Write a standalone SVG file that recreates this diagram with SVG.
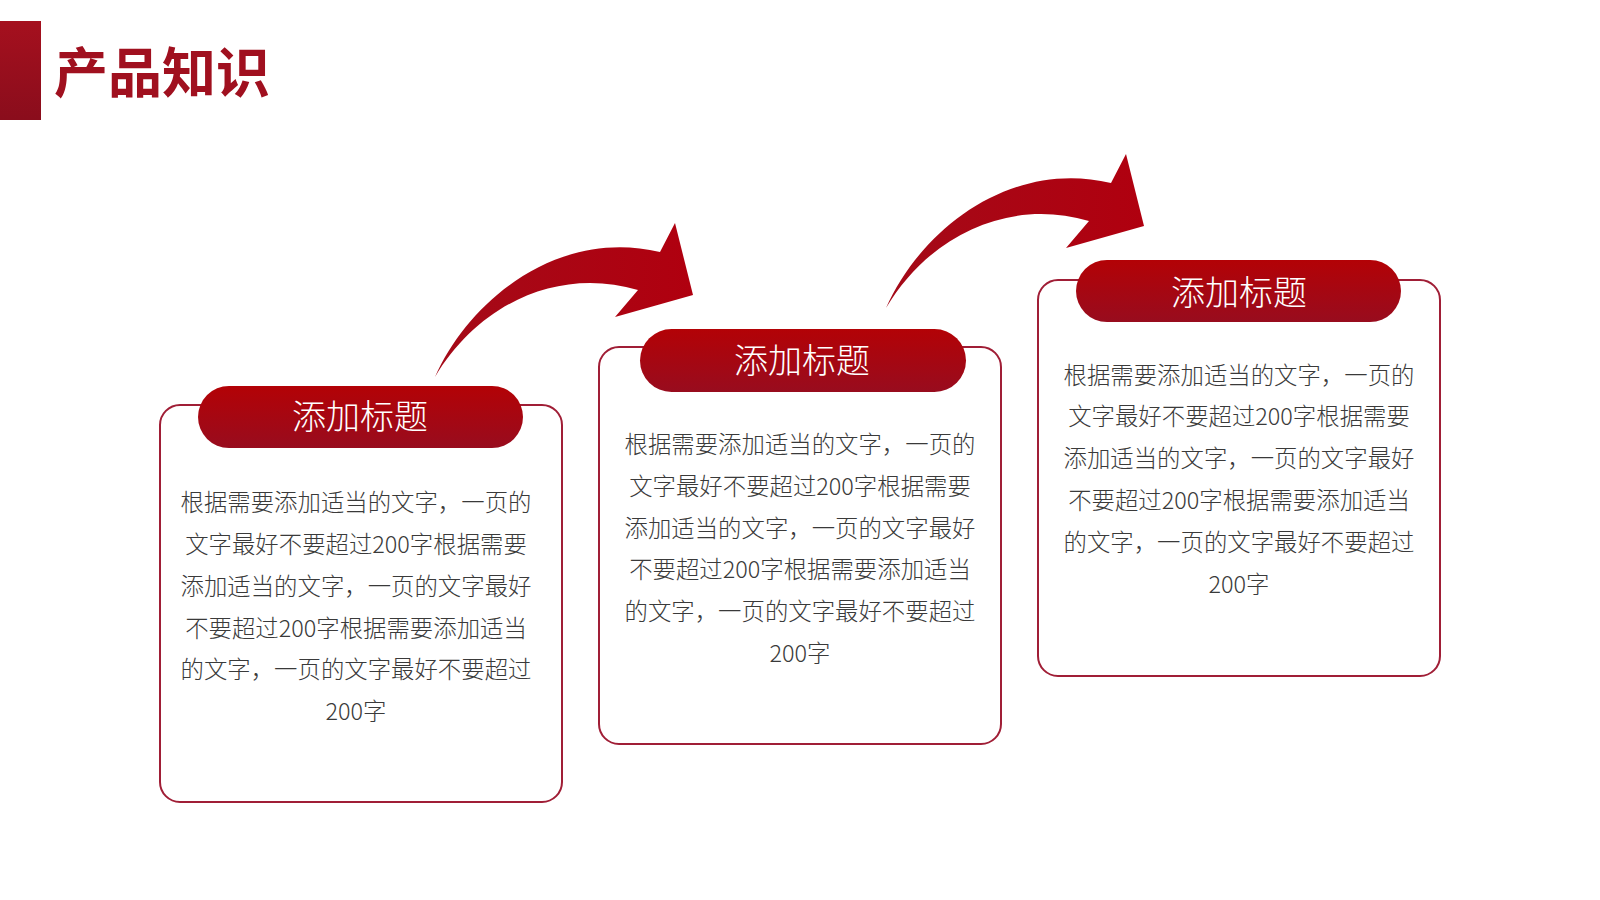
<svg xmlns="http://www.w3.org/2000/svg" width="1600" height="900" viewBox="0 0 1600 900">
<defs>
<linearGradient id="barG" x1="0" y1="0" x2="0" y2="1"><stop offset="0" stop-color="#A5101E"/><stop offset="1" stop-color="#8A0D1C"/></linearGradient>
<linearGradient id="pillG" x1="0" y1="0" x2="0" y2="1"><stop offset="0" stop-color="#B30206"/><stop offset="1" stop-color="#980C1E"/></linearGradient>
<linearGradient id="arrG" x1="0" y1="0" x2="1" y2="0"><stop offset="0" stop-color="#A40A18"/><stop offset="1" stop-color="#B0000F"/></linearGradient>
<path id="arrow" d="M435,377 C470,298 560,228 660,252 L675,223 L693,295 L615,317 L638,290 C560,267 480,302 435,377 Z"/>
</defs>
<style>
.box{fill:#FFFFFF;stroke:#A01E36;stroke-width:2}
.pill{fill:url(#pillG)}
.head{font-family:"Noto Sans CJK SC","Noto Sans",sans-serif;font-size:34px;font-weight:300;fill:#FFFFFF;text-anchor:middle}
.body{font-family:"Noto Sans CJK SC","Noto Sans",sans-serif;font-size:23.4px;font-weight:300;fill:#3A3A3A;text-anchor:middle}
.arr{fill:url(#arrG)}
</style>
<rect width="1600" height="900" fill="#FFFFFF"/>
<g id="title">
<rect x="0" y="21" width="41" height="99" fill="url(#barG)"/>
<text x="54" y="93" font-family="'Noto Sans CJK SC','Noto Sans',sans-serif" font-size="54" font-weight="bold" fill="#A0101F">产品知识</text>
</g>
<g id="connectors">
<use href="#arrow" class="arr"/>
<use href="#arrow" class="arr" transform="translate(451,-69)"/>
</g>
<g id="box1">
<rect class="box" x="160" y="405" width="402" height="397" rx="20"/>
<rect class="pill" x="198" y="386" width="325" height="62" rx="31"/>
<text class="head" x="360" y="429">添加标题</text>
<text class="body" x="356" y="511">根据需要添加适当的文字，一页的</text>
<text class="body" x="356" y="553">文字最好不要超过200字根据需要</text>
<text class="body" x="356" y="595">添加适当的文字，一页的文字最好</text>
<text class="body" x="356" y="637">不要超过200字根据需要添加适当</text>
<text class="body" x="356" y="678">的文字，一页的文字最好不要超过</text>
<text class="body" x="356" y="720">200字</text>
</g>
<g id="box2">
<rect class="box" x="599" y="347" width="402" height="397" rx="20"/>
<rect class="pill" x="640" y="329" width="326" height="63" rx="31.5"/>
<text class="head" x="802" y="373">添加标题</text>
<text class="body" x="800" y="453">根据需要添加适当的文字，一页的</text>
<text class="body" x="800" y="495">文字最好不要超过200字根据需要</text>
<text class="body" x="800" y="537">添加适当的文字，一页的文字最好</text>
<text class="body" x="800" y="578">不要超过200字根据需要添加适当</text>
<text class="body" x="800" y="620">的文字，一页的文字最好不要超过</text>
<text class="body" x="800" y="662">200字</text>
</g>
<g id="box3">
<rect class="box" x="1038" y="280" width="402" height="396" rx="20"/>
<rect class="pill" x="1076" y="260" width="325" height="62" rx="31"/>
<text class="head" x="1239" y="305">添加标题</text>
<text class="body" x="1239" y="384">根据需要添加适当的文字，一页的</text>
<text class="body" x="1239" y="425">文字最好不要超过200字根据需要</text>
<text class="body" x="1239" y="467">添加适当的文字，一页的文字最好</text>
<text class="body" x="1239" y="509">不要超过200字根据需要添加适当</text>
<text class="body" x="1239" y="551">的文字，一页的文字最好不要超过</text>
<text class="body" x="1239" y="593">200字</text>
</g>
</svg>
